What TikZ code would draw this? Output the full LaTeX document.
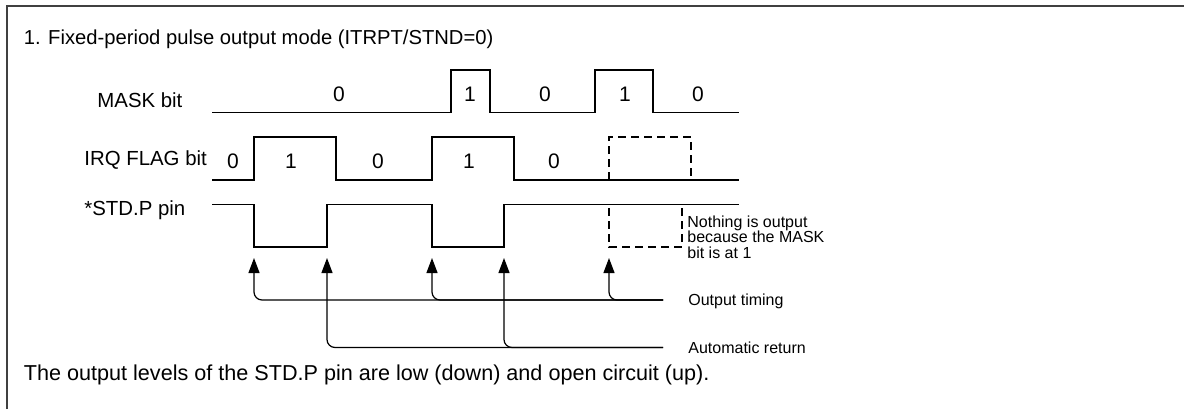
\documentclass[tikz,border=0pt]{standalone}
\usepackage{fontspec}
\setmainfont{Liberation Sans}
\usetikzlibrary{positioning, arrows.meta}

\begin{document}
\begin{tikzpicture}[
        x=0.5pt, y=-0.5pt,
        wave/.style={draw, line width=0.9pt},
        ghost/.style={draw, line width=0.9pt, dash pattern=on 4pt off 2.5pt},
        bitval/.style={font=\fontsize{10.5}{12}\selectfont, inner sep=0pt},
        siglabel/.style={font=\fontsize{10.2}{12}\selectfont, anchor=west, inner sep=0pt},
        note/.style={font=\fontsize{8}{7.75}\selectfont, align=left, inner sep=0pt},
        arrow/.style={draw, line width=0.6pt, rounded corners=4pt, -{Triangle[width=5.5pt, length=7.5pt]}}
    ]
    \useasboundingbox (0,0) rectangle (1184,409);

    % Rahmen
    \draw[line width=1pt, color=black!75] (6.5,409) -- (6.5,5.5) -- (1184,5.5);

    % Texte
    \node (title) [anchor=base west, inner sep=0pt, font=\fontsize{10.1}{12}\selectfont] at (23.5,44) {1. Fixed-period pulse output mode (ITRPT/STND=0)};
    \node (footer) [anchor=base west, inner sep=0pt, font=\fontsize{10.8}{13}\selectfont] at (23.5,380) {The output levels of the STD.P pin are low (down) and open circuit (up).};

    % Signalnamen
    \node (mask) [siglabel] at (97,100) {MASK bit};
    \node (irq) [siglabel] at (84,160) {IRQ FLAG bit};
    \node (std) [siglabel] at (84,210) {*STD.P pin};

    % MASK bit
    \draw[wave] (212,112.5) -- (451,112.5) -- (451,70) -- (490,70) -- (490,112.5) -- (595,112.5) -- (595,70) -- (653,70) -- (653,112.5) -- (739,112.5);
    \foreach \x/\v in {339/0, 470/1, 545/0, 625/1, 698/0}
        \node[bitval] at (\x,94) {\v};

    % IRQ FLAG bit
    \draw[wave] (212,180) -- (254,180) -- (254,137) -- (336,137) -- (336,180) -- (432,180) -- (432,137) -- (514,137) -- (514,180) -- (739,180);
    \draw[ghost] (609,180) -- (609,137) -- (691,137) -- (691,180);
    \foreach \x/\v in {233/0, 291/1, 378/0, 469/1, 554/0}
        \node[bitval] at (\x,161) {\v};

    % STD.P pin
    \draw[wave] (212,204.5) -- (254,204.5) -- (254,247) -- (327,247) -- (327,204.5) -- (432,204.5) -- (432,247) -- (504,247) -- (504,204.5) -- (739,204.5);
    \draw[ghost] (609,208) -- (609,247) -- (682,247) -- (682,208);
    \node (nothing) [note, anchor=north west] at (687,215) {Nothing is output\\because the MASK\\bit is at 1};

    % Zeitpunkte
    \coordinate (out1) at (254,258);
    \coordinate (out2) at (432,258);
    \coordinate (out3) at (609,258);
    \coordinate (ret1) at (327,258);
    \coordinate (ret2) at (504,258);
    \node (outtiming) [note, anchor=west] at (688,301) {Output timing};
    \node (autoret) [note, anchor=west] at (688,347.5) {Automatic return};
    \coordinate (outend) at (663,300);
    \coordinate (retend) at (663,347.5);

    % Pfeile
    \draw[arrow] (outend) -| (out1);
    \draw[arrow] (outend) -| (out2);
    \draw[arrow] (outend) -| (out3);
    \draw[arrow] (retend) -| (ret1);
    \draw[arrow] (retend) -| (ret2);

\end{tikzpicture}
\end{document}
